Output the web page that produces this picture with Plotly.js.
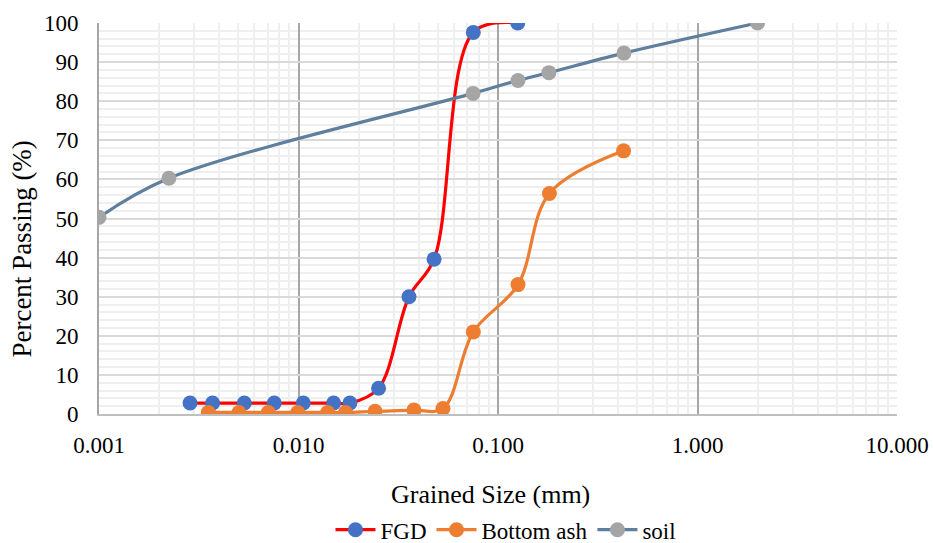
<!DOCTYPE html>
<html>
<head>
<meta charset="utf-8">
<script src="https://cdn.plot.ly/plotly-3.0.1.min.js"></script>
<style>html,body{margin:0;padding:0;background:#fff;}#chart{width:933px;height:543px;}</style>
</head>
<body>
<div id="chart"></div>
<script>
// Grain size (mm) and percent passing
const fgdSize = [0.00286, 0.00371, 0.00535, 0.00756, 0.01057, 0.0150, 0.0181, 0.0252, 0.0358, 0.0478, 0.0752, 0.1256];
const fgdPass = [2.8, 2.8, 2.8, 2.8, 2.8, 2.8, 2.8, 6.6, 30.0, 39.6, 97.6, 100];

const ashSize = [0.00353, 0.00503, 0.00706, 0.00991, 0.0140, 0.0172, 0.0242, 0.0379, 0.0530, 0.0752, 0.126, 0.181, 0.426];
const ashPass = [0.4, 0.4, 0.4, 0.4, 0.4, 0.4, 0.7, 1.0, 1.4, 21.0, 33.1, 56.4, 67.3];

const soilSize = [0.001, 0.00224, 0.075, 0.126, 0.180, 0.428, 2.0];
const soilPass = [50.3, 60.3, 82.0, 85.3, 87.3, 92.3, 100];

const seriesNames = ["FGD", "Bottom ash", "soil"];
const xTitle = "Grained Size (mm)";
const yTitle = "Percent Passing (%)";

const font = "Liberation Serif";

const traces = [
  {x: fgdSize, y: fgdPass, name: seriesNames[0], mode: "lines+markers",
   line: {color: "#ff0000", width: 3.2, shape: "spline", smoothing: 1},
   marker: {color: "#4472c4", size: 15}},
  {x: ashSize, y: ashPass, name: seriesNames[1], mode: "lines+markers",
   line: {color: "#ed7d31", width: 3.2, shape: "spline", smoothing: 1},
   marker: {color: "#ed7d31", size: 15}},
  {x: soilSize, y: soilPass, name: seriesNames[2], mode: "lines+markers",
   line: {color: "#5f7f9f", width: 3.2, shape: "spline", smoothing: 1},
   marker: {color: "#a5a5a5", size: 15}}
];

const layout = {
  width: 933, height: 543,
  margin: {l: 99, r: 36, t: 23, b: 129, autoexpand: false},
  paper_bgcolor: "#ffffff", plot_bgcolor: "#ffffff",
  font: {family: font, size: 23, color: "#000000"},
  showlegend: true,
  legend: {orientation: "h", x: 0.51, xanchor: "center", y: -0.296, yanchor: "middle",
           font: {family: font, size: 23, color: "#000"}, itemwidth: 40, tracegroupgap: 0},
  xaxis: {
    type: "log", range: [-3, 1], tickmode: "linear", tick0: 0, dtick: 1,
    tickformat: ".3f", ticks: "", ticklabelstandoff: 9,
    showgrid: true, gridcolor: "#a6a6a6", gridwidth: 2,
    minor: {dtick: "D1", showgrid: true, gridcolor: "#efefef", gridwidth: 2, ticks: ""},
    showline: true, linecolor: "#bfbfbf", linewidth: 2, mirror: false,
    zeroline: false,
    tickfont: {family: font, size: 23}
  },
  yaxis: {
    range: [0, 100], tickmode: "linear", tick0: 0, dtick: 10, ticks: "",
    ticklabelstandoff: 14,
    showgrid: true, gridcolor: "#d9d9d9", gridwidth: 2,
    minor: {dtick: 2, showgrid: true, gridcolor: "#efefef", gridwidth: 2, ticks: ""},
    showline: true, linecolor: "#a6a6a6", linewidth: 2,
    zeroline: false,
    tickfont: {family: font, size: 23}
  },
  annotations: [
    {text: xTitle, xref: "paper", yref: "paper", x: 0.491, y: -0.207,
     xanchor: "center", yanchor: "middle", showarrow: false,
     font: {family: font, size: 26, color: "#000"}},
    {text: yTitle, xref: "paper", yref: "paper", x: -0.0965, y: 0.423,
     xanchor: "center", yanchor: "middle", showarrow: false, textangle: -90,
     font: {family: font, size: 27, color: "#000"}}
  ]
};

Plotly.newPlot("chart", traces, layout, {displayModeBar: false, staticPlot: true});
</script>
</body>
</html>
